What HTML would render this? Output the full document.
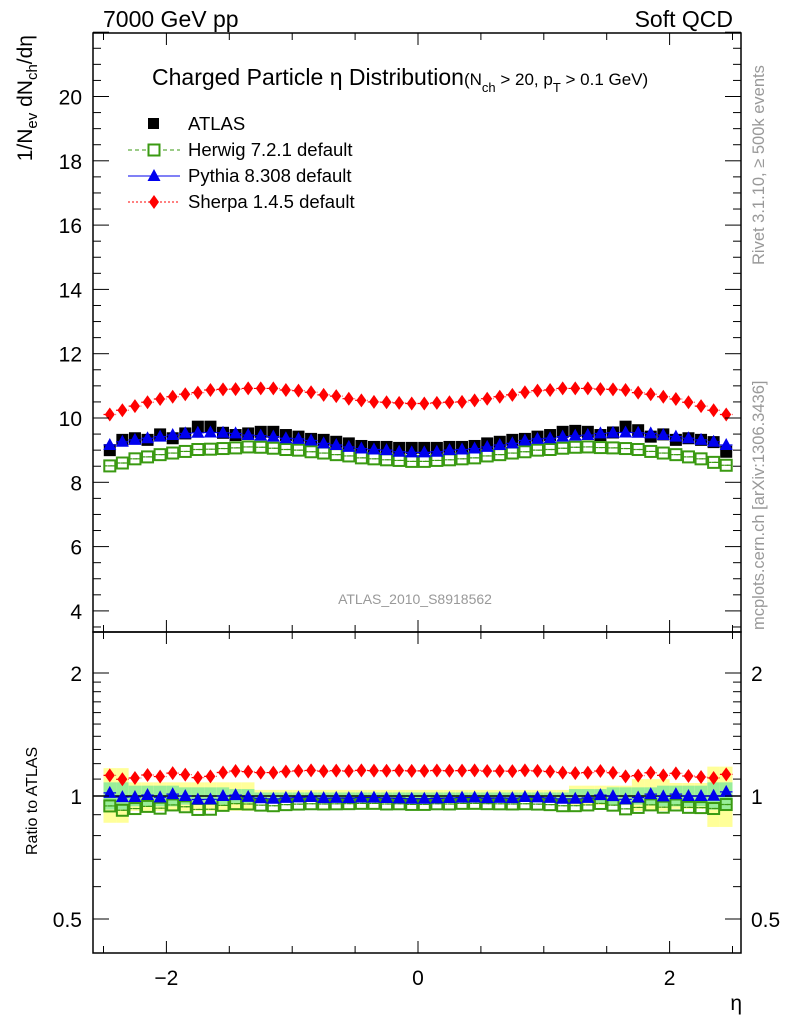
<!DOCTYPE html>
<html><head><meta charset="utf-8">
<style>
body{margin:0;background:#fff;}
svg text{font-family:"Liberation Sans",sans-serif;fill:#000;}
</style></head>
<body>
<svg id="c" width="786" height="1024" xmlns="http://www.w3.org/2000/svg"></svg>
<script>
// ---- data ----
const etaCenters = [-2.45,-2.35,-2.25,-2.15,-2.05,-1.95,-1.85,-1.75,-1.65,-1.55,-1.45,-1.35,-1.25,-1.15,-1.05,-0.95,-0.85,-0.75,-0.65,-0.55,-0.45,-0.35,-0.25,-0.15,-0.05,0.05,0.15,0.25,0.35,0.45,0.55,0.65,0.75,0.85,0.95,1.05,1.15,1.25,1.35,1.45,1.55,1.65,1.75,1.85,1.95,2.05,2.15,2.25,2.35,2.45];
const atlasVals = [9.0,9.32,9.37,9.32,9.49,9.37,9.52,9.73,9.73,9.54,9.47,9.52,9.57,9.57,9.47,9.42,9.35,9.32,9.26,9.21,9.13,9.1,9.1,9.07,9.07,9.07,9.07,9.1,9.1,9.13,9.21,9.26,9.32,9.35,9.42,9.47,9.57,9.6,9.57,9.47,9.55,9.73,9.62,9.42,9.49,9.32,9.37,9.32,9.25,8.95];
const herwigVals = [8.51,8.6,8.73,8.79,8.86,8.91,8.96,9.02,9.03,9.05,9.07,9.1,9.09,9.06,9.02,9.0,8.95,8.91,8.86,8.82,8.76,8.73,8.7,8.68,8.65,8.65,8.68,8.7,8.73,8.76,8.82,8.86,8.91,8.95,9.0,9.02,9.06,9.09,9.1,9.08,9.07,9.05,9.02,8.96,8.91,8.86,8.79,8.73,8.62,8.53];
const pythiaVals = [9.16,9.26,9.32,9.37,9.42,9.47,9.52,9.54,9.55,9.54,9.52,9.47,9.45,9.42,9.37,9.35,9.3,9.21,9.16,9.1,9.05,9.02,9.0,8.95,8.93,8.93,8.95,9.0,9.02,9.05,9.1,9.16,9.21,9.3,9.35,9.37,9.42,9.45,9.47,9.52,9.54,9.55,9.54,9.52,9.47,9.42,9.37,9.32,9.26,9.16];
const sherpaVals = [10.11,10.24,10.37,10.49,10.59,10.66,10.74,10.79,10.87,10.89,10.9,10.92,10.92,10.92,10.87,10.85,10.8,10.72,10.68,10.6,10.55,10.5,10.49,10.47,10.45,10.45,10.47,10.49,10.5,10.55,10.6,10.66,10.72,10.8,10.85,10.87,10.92,10.92,10.92,10.9,10.89,10.87,10.79,10.74,10.66,10.59,10.49,10.37,10.24,10.11];
const bandTotUp = [1.17,1.17,1.08,1.08,1.08,1.08,1.08,1.08,1.08,1.08,1.08,1.08,1.035,1.035,1.035,1.035,1.035,1.035,1.035,1.035,1.035,1.035,1.035,1.035,1.035,1.035,1.035,1.035,1.035,1.035,1.035,1.035,1.035,1.035,1.035,1.035,1.035,1.06,1.06,1.06,1.06,1.06,1.1,1.1,1.1,1.076,1.076,1.076,1.18,1.18];
const bandTotDn = [0.86,0.86,0.92,0.92,0.92,0.92,0.92,0.92,0.92,0.92,0.92,0.92,0.97,0.97,0.97,0.97,0.97,0.97,0.97,0.97,0.97,0.97,0.97,0.97,0.97,0.97,0.97,0.97,0.97,0.97,0.97,0.97,0.97,0.97,0.97,0.97,0.97,0.95,0.95,0.95,0.95,0.95,0.92,0.92,0.92,0.93,0.93,0.93,0.84,0.84];
const bandStatUp = [1.08,1.08,1.06,1.06,1.06,1.06,1.05,1.05,1.05,1.05,1.04,1.04,1.02,1.02,1.02,1.02,1.02,1.02,1.02,1.02,1.02,1.02,1.02,1.02,1.02,1.02,1.02,1.02,1.02,1.02,1.02,1.02,1.02,1.02,1.02,1.02,1.02,1.04,1.04,1.04,1.05,1.05,1.05,1.05,1.06,1.06,1.06,1.06,1.08,1.08];
const xTicks = [-2.5,-2,-1.5,-1,-0.5,0,0.5,1,1.5,2,2.5];
const xLabels = [-2,0,2];
const yMainLabels = [4,6,8,10,12,14,16,18,20];
const yRatioLabels = [0.5,1,2];

// ---- axes ----
const L=93,R=741,T=33,MB=632,RB=953;
const X=v=>418+v*125.8;
const Y=v=>418-(v-10)*32.15;
const YR=v=>796-Math.log2(v)*123;
const svg=document.getElementById('c');
const NS='http://www.w3.org/2000/svg';
function mk(tag,at,parent){const e=document.createElementNS(NS,tag);for(const k in at)e.setAttribute(k,at[k]);(parent||svg).appendChild(e);return e;}
function txt(s,at,parent){const e=mk('text',at,parent);e.textContent=s;return e;}
const hw=0.05*125.8;

// ratio bands
const gBand=mk('g',{});


etaCenters.forEach((e,i)=>{
  const r=mk('rect',{x:X(e)-hw,width:2*hw,y:YR(bandTotUp[i]),height:YR(bandTotDn[i])-YR(bandTotUp[i]),fill:'#ffff99'},gBand);
  
  
  const dn=1/bandStatUp[i];
  const g=mk('rect',{x:X(e)-hw,width:2*hw,y:YR(bandStatUp[i]),height:YR(dn)-YR(bandStatUp[i]),fill:'#99ee99'},gBand);
  
  
});
mk('line',{x1:L,x2:R,y1:YR(1),y2:YR(1),stroke:'#000','stroke-width':1.5});

function marker(kind,cx,cy,parent){
  if(kind==='sq') return mk('rect',{x:cx-6,y:cy-6,width:12,height:12,fill:'#000'},parent);
  if(kind==='osq'){const g=mk('g',{},parent);mk('rect',{x:cx-5.5,y:cy-5.5,width:11,height:11,fill:'none',stroke:'#3a9a12','stroke-width':2},g);mk('line',{x1:cx-2,x2:cx+2,y1:cy,y2:cy,stroke:'#3a9a12','stroke-width':1.2},g);return g;}
  if(kind==='tri') return mk('polygon',{points:`${cx},${cy-7} ${cx-6.5},${cy+5} ${cx+6.5},${cy+5}`,fill:'#0000ee'},parent);
  if(kind==='dia') return mk('polygon',{points:`${cx},${cy-7} ${cx-5},${cy} ${cx},${cy+7} ${cx+5},${cy}`,fill:'#ff0000'},parent);
}
const series=[
 {name:'herwig',vals:herwigVals,kind:'osq',color:'#3a9a12',dash:'4,3'},
 {name:'pythia',vals:pythiaVals,kind:'tri',color:'#0000ee',dash:''},
 {name:'sherpa',vals:sherpaVals,kind:'dia',color:'#ff0000',dash:'2,2'}
];
function drawSeries(s,yf,ratio){
  const g=mk('g',{});
  
  
  let d='';
  etaCenters.forEach((e,i)=>{const v=ratio?s.vals[i]/atlasVals[i]:s.vals[i];d+=`M${X(e)-hw},${yf(v)}H${X(e)+hw}`;});
  mk('path',{d:d,stroke:s.color,'stroke-width':1.2,fill:'none','stroke-dasharray':s.dash},g);
  etaCenters.forEach((e,i)=>{const v=ratio?s.vals[i]/atlasVals[i]:s.vals[i];
    const m=marker(s.kind,X(e),yf(v),g);
    
    });
}
const gA=mk('g',{});


etaCenters.forEach((e,i)=>{const m=marker('sq',X(e),Y(atlasVals[i]),gA);
  
  });
series.forEach(s=>drawSeries(s,Y,false));
series.forEach(s=>drawSeries(s,YR,true));

mk('rect',{x:L,y:T,width:R-L,height:MB-T,fill:'none',stroke:'#000','stroke-width':1.5});
mk('rect',{x:L,y:MB,width:R-L,height:RB-MB,fill:'none',stroke:'#000','stroke-width':1.5});
const gx=mk('g',{stroke:'#000','stroke-width':1});
xTicks.forEach(t=>{const len=(t%1===0&&t%2===0)?12:7;
  [[T,1],[MB,-1],[MB,1],[RB,-1]].forEach(([y,s])=>mk('line',{x1:X(t),x2:X(t),y1:y,y2:y+s*len},gx));});
xLabels.forEach(t=>{const e=txt(t<0?'−'+Math.abs(t):String(t),{x:X(t),y:985,'font-size':21,'text-anchor':'middle'});
  });
for(let v=3.5;v<=22.01;v+=0.5){const major=Math.abs(v%2)<0.01;const len=major?16:8;
  mk('line',{x1:L,x2:L+len,y1:Y(v),y2:Y(v),stroke:'#000'});mk('line',{x1:R,x2:R-len,y1:Y(v),y2:Y(v),stroke:'#000'});}
yMainLabels.forEach(v=>{const e=txt(String(v),{x:82,y:Y(v)+8,'font-size':21,'text-anchor':'end'});
  });
[0.5,0.6,0.7,0.8,0.9,1,1.1,1.2,1.3,1.4,1.5,1.6,1.7,1.8,1.9,2].forEach(v=>{const major=[0.5,1,2].includes(v);const len=major?16:8;
  mk('line',{x1:L,x2:L+len,y1:YR(v),y2:YR(v),stroke:'#000'});mk('line',{x1:R,x2:R-len,y1:YR(v),y2:YR(v),stroke:'#000'});});
yRatioLabels.forEach(v=>{[[82,'end'],[751,'start']].forEach(([x,a])=>{const e=txt(String(v),{x:x,y:YR(v)+8,'font-size':21,'text-anchor':a});
  });});
</script>
<svg width="786" height="1024" style="position:absolute;left:0;top:0" xmlns="http://www.w3.org/2000/svg">
<text x="103" y="27" font-size="23" font-family="Liberation Sans">7000 GeV pp</text>
<text x="733" y="27" font-size="23" font-family="Liberation Sans" text-anchor="end">Soft QCD</text>
<text x="152" y="85" font-size="23" font-family="Liberation Sans">Charged Particle η Distribution<tspan font-size="17">(N</tspan><tspan font-size="13" dy="7">ch</tspan><tspan font-size="17" dy="-7"> &gt; 20, p</tspan><tspan font-size="13" dy="7">T</tspan><tspan font-size="17" dy="-7"> &gt; 0.1 GeV)</tspan></text>
<g font-family="Liberation Sans" font-size="18.5">
<rect x="148" y="118" width="11" height="11" fill="#000"/>
<text x="188" y="130">ATLAS</text>
<line x1="128" x2="180" y1="150" y2="150" stroke="#3a9a12" stroke-dasharray="4,3"/>
<rect x="148.5" y="144.5" width="11" height="11" fill="#fff" stroke="#3a9a12" stroke-width="2"/>
<text x="188" y="156">Herwig 7.2.1 default</text>
<line x1="128" x2="180" y1="176" y2="176" stroke="#0000ee"/>
<polygon points="154,169 147.5,181 160.5,181" fill="#0000ee"/>
<text x="188" y="182">Pythia 8.308 default</text>
<line x1="128" x2="180" y1="202" y2="202" stroke="#ff0000" stroke-dasharray="2,2"/>
<polygon points="154,195 149,202 154,209 159,202" fill="#ff0000"/>
<text x="188" y="208">Sherpa 1.4.5 default</text>
</g>
<text x="415" y="604" font-size="14" style="fill:#999" text-anchor="middle" font-family="Liberation Sans">ATLAS_2010_S8918562</text>
<text transform="translate(32,35) rotate(-90)" font-size="21" text-anchor="end" font-family="Liberation Sans">1/N<tspan font-size="15" dy="5">ev</tspan><tspan dy="-5"> dN</tspan><tspan font-size="15" dy="5">ch</tspan><tspan dy="-5">/dη</tspan></text>
<text transform="translate(37,855) rotate(-90)" font-size="16" font-family="Liberation Sans">Ratio to ATLAS</text>
<text x="742" y="1010" font-size="21" text-anchor="end" font-family="Liberation Sans">η</text>
<text transform="translate(764,265) rotate(-90)" font-size="16.5" style="fill:#999" font-family="Liberation Sans">Rivet 3.1.10, ≥ 500k events</text>
<text transform="translate(764,630) rotate(-90)" font-size="16.5" style="fill:#999" font-family="Liberation Sans">mcplots.cern.ch [arXiv:1306.3436]</text>
</svg>
</body></html>
